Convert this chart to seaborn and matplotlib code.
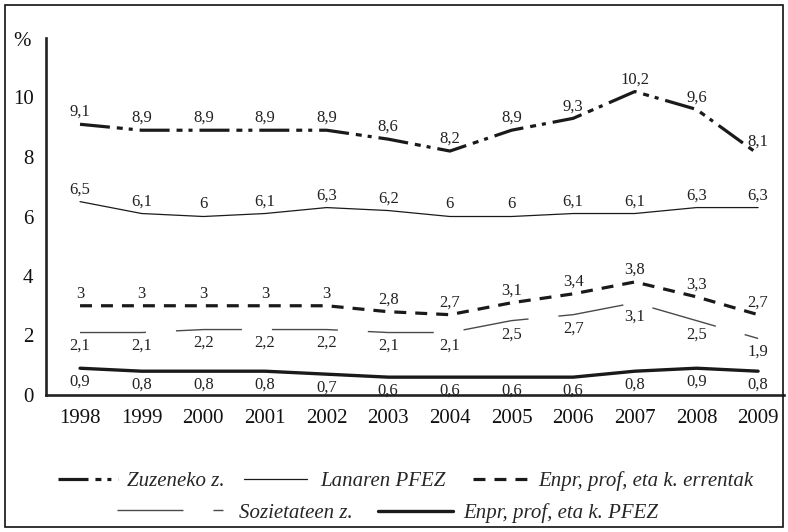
"""
plot.py
-------
Line chart: tax components as % (1998-2009), five series with value labels.
"""

import matplotlib
matplotlib.use("Agg")
import matplotlib.pyplot as plt
from matplotlib.lines import Line2D
from matplotlib.patches import Rectangle
import seaborn as sns

# ---- data ----
years       = [1998, 1999, 2000, 2001, 2002, 2003, 2004, 2005, 2006, 2007, 2008, 2009]
zuzeneko    = [9.1, 8.9, 8.9, 8.9, 8.9, 8.6, 8.2, 8.9, 9.3, 10.2, 9.6, 8.1]
lanaren     = [6.5, 6.1, 6.0, 6.1, 6.3, 6.2, 6.0, 6.0, 6.1, 6.1, 6.3, 6.3]
errentak    = [3.0, 3.0, 3.0, 3.0, 3.0, 2.8, 2.7, 3.1, 3.4, 3.8, 3.3, 2.7]
sozietateen = [2.1, 2.1, 2.2, 2.2, 2.2, 2.1, 2.1, 2.5, 2.7, 3.1, 2.5, 1.9]
enpr_pfez   = [0.9, 0.8, 0.8, 0.8, 0.7, 0.6, 0.6, 0.6, 0.6, 0.8, 0.9, 0.8]
y_ticks     = [0, 2, 4, 6, 8, 10]

sns.set_style("white")
plt.rcParams["font.family"] = ["Liberation Serif", "DejaVu Serif"]
plt.rcParams["lines.scale_dashes"] = False

INK = "#1a1a1a"

# name, values, style, label side
series = [
    ("Zuzeneko z.", zuzeneko,
     dict(color=INK, lw=2.3, linestyle=(0, (21.6, 5, 4.3, 4.3, 2.9, 5))), "above"),
    ("Lanaren PFEZ", lanaren,
     dict(color=INK, lw=0.9, linestyle="-"), "above"),
    ("Enpr, prof, eta k. errentak", errentak,
     dict(color=INK, lw=2.3, linestyle=(0, (8.6, 6.5))), "above"),
    ("Sozietateen z.", sozietateen,
     dict(color="#4a4a4a", lw=1.0, linestyle=(0, (47.5, 21.6))), "below"),
    ("Enpr, prof, eta k. PFEZ", enpr_pfez,
     dict(color=INK, lw=2.4, linestyle="-"), "below"),
]

fig = plt.figure(figsize=(7.88, 5.32), dpi=100)
ax = fig.add_axes([46 / 788, 1 - 395 / 532, 738 / 788, (395 - 38) / 532])

for name, vals, style, side in series:
    sns.lineplot(x=years, y=vals, ax=ax, legend=False, **style)
    for x, v in zip(years, vals):
        txt = f"{v:g}".replace(".", ",")
        if side == "above":
            ax.annotate(txt, (x, v), xytext=(0, 3), textcoords="offset points",
                        ha="center", va="bottom", fontsize=12, color="#222222")
        else:
            ax.annotate(txt, (x, v), xytext=(0, -4), textcoords="offset points",
                        ha="center", va="top", fontsize=12, color="#222222")

ax.set_xlim(1997.448, 2009.42)
ax.set_ylim(0, 12)
ax.set_xticks(years)
ax.set_xticklabels([str(y) for y in years], fontsize=15)
ax.set_yticks(y_ticks)
ax.set_yticklabels([str(t) for t in y_ticks], fontsize=15)
ax.tick_params(axis="x", length=0, pad=10, colors="#111111")
ax.tick_params(axis="y", length=0, pad=9, colors="#111111")
ax.set_xlabel("")
ax.set_ylabel("")

sns.despine(ax=ax)
for side in ("left", "bottom"):
    ax.spines[side].set_linewidth(1.9)
    ax.spines[side].set_color("#222222")

fig.text(22 / 788, 1 - 42 / 532, "%", fontsize=15, ha="center", va="center",
         color="#111111")

# legend keys: (x start px, y centre px, handle length px, text pad px)
key_layout = [
    (58, 481, 60, 9),
    (244, 481, 63, 13),
    (473, 481, 54, 11),
    (117, 513, 106, 16),
    (378, 513, 75, 10),
]
em_px = 15 / 72 * 100
for (name, vals, style, side), (kx, ky, hl, tp) in zip(series, key_layout):
    h = Line2D([], [], **style)
    fig.legend([h], [name], loc="center left",
               bbox_to_anchor=(kx / 788, 1 - ky / 532),
               frameon=False, borderpad=0, borderaxespad=0,
               handlelength=hl / em_px, handletextpad=tp / em_px,
               prop=dict(family=["Liberation Serif", "DejaVu Serif"],
                         style="italic", size=15))

# frame around the whole picture
fig.patches.append(Rectangle((5 / 788, 5 / 532), 778 / 788, 522 / 532,
                             transform=fig.transFigure, fill=False,
                             edgecolor="#111111", lw=1.2))

fig.savefig("out.png", dpi=100)
